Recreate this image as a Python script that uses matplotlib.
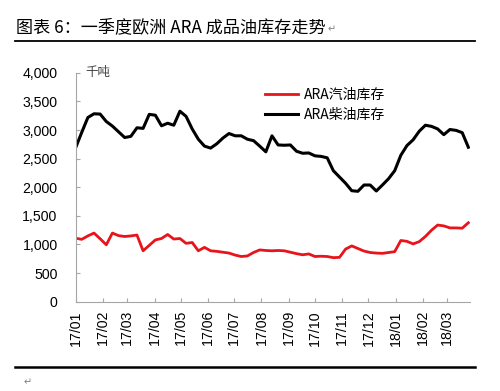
import matplotlib
matplotlib.use("Agg")
import matplotlib.pyplot as plt
import matplotlib.dates as mdates
import numpy as np
import pandas as pd

plt.rcParams['font.family'] = ['Liberation Sans', 'Noto Sans CJK SC', 'DejaVu Sans']

# weekly ARA stocks, thousand tonnes
weeks = pd.date_range("2017-01-01", periods=65, freq="7D")
diesel = [2690, 2960, 3220, 3285, 3280, 3150, 3070, 2970, 2870, 2890,
          3040, 3030, 3275, 3260, 3075, 3120, 3085, 3330, 3240, 3020,
          2840, 2720, 2685, 2760, 2860, 2940, 2900, 2900, 2840, 2815,
          2720, 2620, 2900, 2740, 2735, 2740, 2630, 2595, 2600, 2550,
          2540, 2515, 2290, 2180, 2070, 1940, 1930, 2040, 2040, 1935,
          2040, 2150, 2290, 2560, 2730, 2830, 2980, 3085, 3065, 3020,
          2920, 3010, 2995, 2955, 2700]
gasoline = [1110, 1090, 1150, 1200, 1100, 995, 1200, 1155, 1140, 1150,
            1165, 890, 985, 1080, 1105, 1175, 1095, 1105, 1020, 1035,
            890, 950, 890, 880, 865, 850, 815, 790, 800, 860,
            905, 895, 890, 895, 890, 865, 840, 820, 835, 790,
            795, 790, 770, 775, 920, 975, 930, 885, 860, 850,
            845, 860, 875, 1070, 1055, 1010, 1050, 1140, 1250, 1340,
            1325, 1290, 1290, 1285, 1380]
month_ticks = pd.date_range("2017-01-01", "2018-03-01", freq="MS")
yticks = np.arange(0, 4001, 500)

fig = plt.figure(figsize=(5, 3.91), dpi=100)
ax = fig.add_axes([0.1512, 0.2284, 0.789, 0.5852])

ax.plot(weeks, gasoline, color='#e8141c', lw=2.0, label='ARA汽油库存')
ax.plot(weeks, diesel, color='black', lw=2.2, label='ARA柴油库存')

ax.set_xlim(pd.Timestamp("2017-01-01"), pd.Timestamp("2018-03-27"))
ax.set_ylim(0, 4000)
ax.set_yticks(yticks)
ax.set_yticklabels(['{:,}'.format(v) for v in yticks], fontsize=10.2)
ax.set_xticks(month_ticks)
ax.xaxis.set_major_formatter(mdates.DateFormatter('%y/%m'))
for t in ax.get_xticklabels():
    t.set_rotation(90)
    t.set_fontsize(10.2)

for s in ['top', 'right']:
    ax.spines[s].set_visible(False)
for s in ['left', 'bottom']:
    ax.spines[s].set_color('#a6a6a6')
ax.tick_params(axis='both', direction='in', color='#a6a6a6', length=3)
ax.tick_params(axis='y', pad=13)
ax.tick_params(axis='x', pad=6)

ax.text(0.025, 1.0, '千吨', transform=ax.transAxes, fontsize=9,
        family=['Noto Sans CJK SC', 'DejaVu Sans'], color='#404040', va='center')

leg = ax.legend(loc='upper left', bbox_to_anchor=(258 / 500, 1 - 81 / 391),
                bbox_transform=fig.transFigure, frameon=False,
                handlelength=2.4, handletextpad=0.4, borderpad=0,
                labelspacing=0.4, prop={'family': ['Noto Sans CJK SC'], 'size': 10})

# title and rules
fig.text(16 / 500, 1 - 27 / 391, '图表 6：一季度欧洲 ARA 成品油库存走势', fontsize=12.3,
         family=['Noto Sans CJK SC', 'DejaVu Sans'], va='center', ha='left')
fig.text(328 / 500, 1 - 29 / 391, '↵', fontsize=7, color='#808080',
         family=['DejaVu Sans'], va='center')
fig.add_artist(plt.Line2D([15 / 500, 475 / 500], [1 - 41 / 391] * 2, color='black', lw=1.3))
fig.add_artist(plt.Line2D([15 / 500, 475 / 500], [1 - 367 / 391] * 2, color='black', lw=1.8))
fig.text(24 / 500, 1 - 382 / 391, '↵', fontsize=7, color='#808080',
         family=['DejaVu Sans'], va='center')

fig.savefig('out.png', dpi=100)
